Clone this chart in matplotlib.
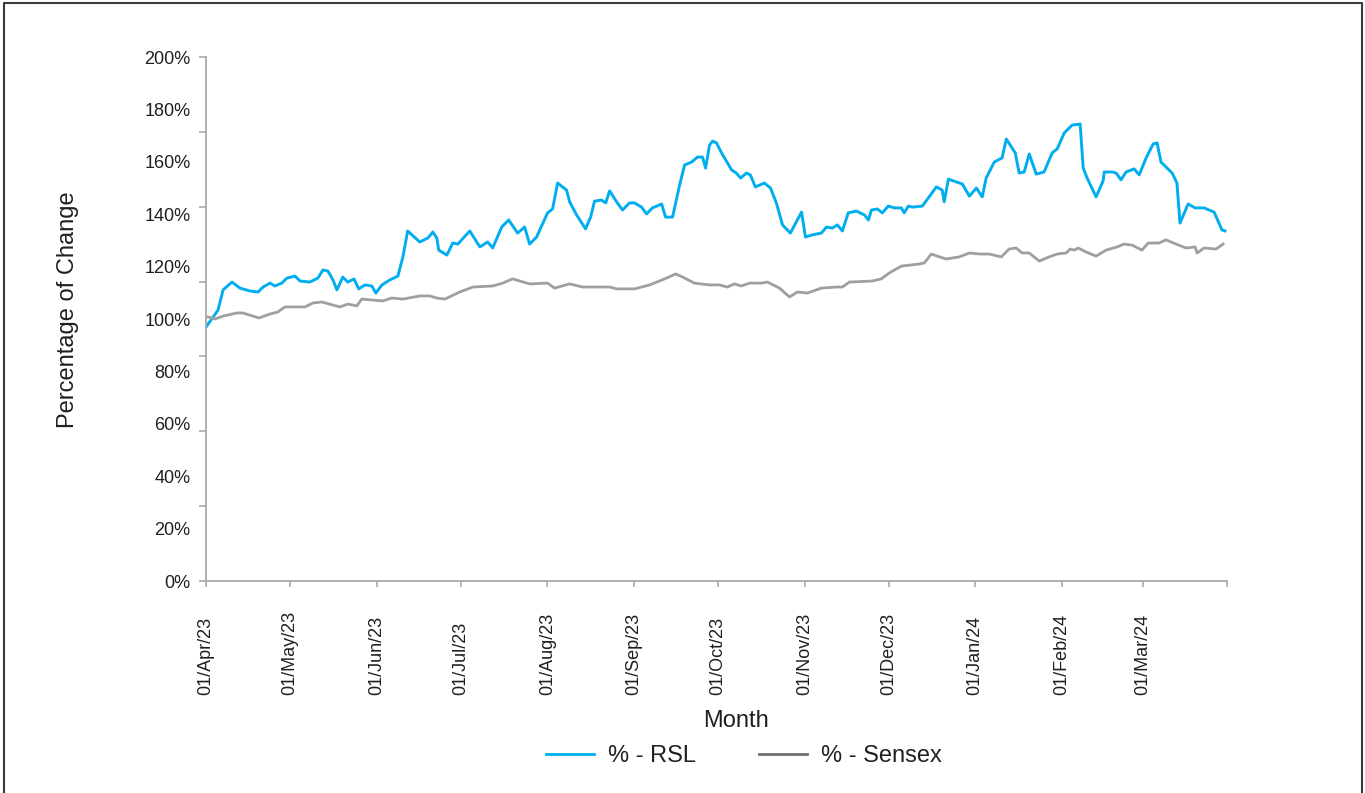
import matplotlib
matplotlib.use("Agg")
import matplotlib.pyplot as plt
from matplotlib.lines import Line2D
import numpy as np
import pandas as pd

# days since 01/Apr/23 and % change
rsl_days = [0, 4.3, 6.1, 9.3, 12.1, 15.7, 18.6, 20.4, 22.9, 24.6, 27.1, 28.9, 31.8, 33.6,
            37.1, 40, 41.8, 43.6, 45.4, 46.8, 48.9, 50.7, 52.9, 54.6, 56.8, 59.3, 60.7,
            62.9, 65.7, 68.6, 70.4, 72.1, 76.4, 79.3, 81.1, 82.5, 83.2, 86.1,
            88.2, 90, 94.3, 97.9, 100.7, 102.5, 105.7, 108.2, 111.4, 113.9, 115.7, 118.2,
            122.1, 123.9, 125.7, 128.9, 130, 132.5, 135.7, 137.5, 138.9, 141.4, 142.9,
            144.3, 146.8, 148.9, 151.4, 153.2, 155.7, 157.5, 159.6, 162.9, 164.3, 166.8,
            169.3, 171.1, 173.6, 175.7, 177.5, 178.6, 180,
            181.1, 182.5, 184.3, 187.9, 189.6, 191.1, 193.2, 194.6, 196.4, 199.6, 201.8,
            203.9, 206.1, 208.9, 212.9, 214.3, 216.8, 220, 221.8, 223.9, 225.7, 227.5,
            229.6, 232.5, 235.4, 236.8, 237.9, 240, 241.8, 243.9, 246.1, 248.6, 249.6,
            251.1, 252.5, 256.1, 261.1, 263.2, 263.9, 265.4,
            270.4, 272.9, 275.4, 277.5, 278.9, 281.8, 284.6, 286.1, 289.3, 290.7, 292.5,
            294.3, 296.8, 299.6, 302.5, 304.3, 306.8, 309.6, 312.5, 313.6, 315, 318.2,
            320.7, 321.1, 324, 325.4, 327.1, 328.9, 331.8, 333.6, 336.1, 338.6, 340,
            341.4, 345.4, 347.1, 348.2, 351.1, 353.6, 356.8, 360.4, 363.2, 364.3]
rsl_pct = [96.9, 103.4, 111.1, 114.1, 111.8, 110.7, 110.3, 112.2, 113.7, 112.6, 113.7, 115.6,
           116.4, 114.5, 114.1, 115.6, 118.7, 118.3, 114.9, 111.1, 116.0, 114.1, 115.3, 111.5,
           113.0, 112.6, 109.9, 113.0, 114.9, 116.4, 123.7, 133.6, 129.4, 130.9, 133.2,
           130.9, 126.3, 124.4,
           129.0, 128.6, 133.6, 127.5, 129.4, 127.1, 135.1, 137.8, 132.8, 135.1, 128.6,
           131.3, 140.5, 142.0, 151.9, 149.2, 144.7, 139.7, 134.4, 138.9, 145.0, 145.4,
           144.3, 148.9, 144.7, 141.6, 144.3, 144.3, 142.7, 140.1, 142.4, 143.9, 138.9,
           138.9, 151.1, 158.8, 159.9, 161.8, 161.8, 157.6, 166.4,
           167.9, 167.2, 163.4, 156.9, 155.7, 153.8, 155.7, 155.0, 150.4, 151.9, 150.0,
           144.3, 135.9, 132.8, 140.8, 131.3, 132.1, 132.8, 135.1, 134.7, 135.9, 133.6,
           140.5, 141.2, 139.7, 137.8, 141.6, 142.0, 140.5, 143.1, 142.4, 142.4, 140.5,
           143.1, 142.7, 143.1, 150.4, 149.2, 144.7, 153.4,
           151.5, 146.9, 150.0, 146.6, 153.8, 159.9, 161.5, 168.7, 163.4, 155.7, 156.1,
           163.0, 155.3, 156.1, 163.4, 164.9, 171.0, 174.0, 174.4, 157.6, 153.8, 146.6,
           152.7, 156.1, 156.1, 155.7, 153.1, 156.1, 157.3, 155.0, 161.5, 166.8, 167.2,
           159.9, 155.7, 151.9, 136.6, 143.9, 142.4, 142.4, 140.8, 134.0, 133.6]

sensex_days = [0.7, 3.2, 6.1, 11.1, 13.2, 18.9, 22.9, 25.7, 28.2, 33.6, 35.4, 38.2, 41.4,
               45.4, 47.9, 50.7, 53.9, 55.7, 63.2, 66.4, 70.4, 76.4, 80, 82.5, 85.4,
               90.7, 95.4, 102.5, 106.1, 109.6, 115.7, 122.1, 124.6, 130, 134.6, 139.6,
               144.3, 146.8, 153.2, 158.6, 164.6, 167.9, 170.4, 174.6, 180,
               183.6, 186.4, 188.9, 191.4, 194.3, 198.6, 200.7, 205, 208.6, 211.4, 215, 220,
               225.4, 227.5, 230, 238.2, 241.4, 244.3, 248.6, 255, 256.8, 259.3, 261.4,
               264.6, 269.3, 272.9, 276.4, 280, 284.3, 287.1, 289.6, 291.8, 294.3, 297.9,
               301.4, 304.3, 307.5, 308.9, 310.4, 311.8, 314.6, 318.2, 321.8, 325.7, 328.2,
               331.1, 334.6, 336.8, 340.7, 343.2, 346.8, 350.4, 353.6, 354.3, 356.8, 361.1,
               363.6]
sensex_pct = [100.8, 100.0, 101.1, 102.3, 102.3, 100.4, 101.9, 102.7, 104.6, 104.6, 104.6,
              106.1, 106.5, 105.3, 104.6, 105.7, 105.0, 107.6, 106.9, 108.0, 107.6, 108.8,
              108.8, 108.0, 107.6,
              110.3, 112.2, 112.6, 113.7, 115.3, 113.4, 113.7, 111.8, 113.4, 112.2, 112.2,
              112.2, 111.5, 111.5, 113.0, 115.6, 117.2, 116.0, 113.7, 113.0,
              113.0, 112.2, 113.4, 112.6, 113.7, 113.7, 114.1, 111.8, 108.4, 110.3, 109.9,
              111.8, 112.2, 112.2, 114.1, 114.5, 115.3, 117.6, 120.2, 121.0, 121.4, 124.8,
              124.0, 122.9, 123.7, 125.2, 124.8, 124.8, 123.7, 126.7, 127.1, 125.2, 125.2,
              122.1, 123.7, 124.8, 125.2, 126.7, 126.3, 127.1, 125.6, 124.0, 126.3, 127.5,
              128.6, 128.2, 126.3, 129.0, 129.0, 130.2, 128.6, 127.1, 127.5, 125.2, 127.1,
              126.7, 128.6]

month_labels = ["01/Apr/23", "01/May/23", "01/Jun/23", "01/Jul/23", "01/Aug/23",
                "01/Sep/23", "01/Oct/23", "01/Nov/23", "01/Dec/23", "01/Jan/24",
                "01/Feb/24", "01/Mar/24"]

start = pd.Timestamp("2023-04-01")
month_days = [(m - start).days for m in
              pd.date_range("2023-04-01", "2024-03-01", freq="MS")]
end_day = (pd.Timestamp("2024-03-31") - start).days

plt.rcParams["font.family"] = ["Liberation Sans", "DejaVu Sans"]
txt = "#231f20"
axis_grey = "#a7a9ac"
rsl_col = "#00aeef"
sensex_col = "#9d9fa2"

fig = plt.figure(figsize=(13.65, 7.93), dpi=100)
ax = fig.add_axes([206 / 1365, 1 - 581 / 793, (1227 - 206) / 1365, (581 - 57) / 793])

ax.plot(rsl_days, rsl_pct, color=rsl_col, lw=2.1, solid_joinstyle="round")
ax.plot(sensex_days, sensex_pct, color=sensex_col, lw=2.0, solid_joinstyle="round")

ax.set_xlim(0, end_day)
ax.set_ylim(0, 200)

for s in ["top", "right"]:
    ax.spines[s].set_visible(False)
for s in ["left", "bottom"]:
    ax.spines[s].set_color(axis_grey)
    ax.spines[s].set_linewidth(1.3)

# tick marks on the y axis sit on 7 intervals, labels on 20% steps
ax.yaxis.remove_overlapping_locs = False
ax.set_yticks(np.linspace(0, 200, 8))
ax.set_yticklabels([])
ax.set_yticks(np.arange(0, 201, 20), minor=True)
ax.set_yticklabels([f"{v}%" for v in range(0, 201, 20)], minor=True)
ax.tick_params(axis="y", which="major", length=5, width=1.2, color=axis_grey)
ax.tick_params(axis="y", which="minor", length=0, pad=11, labelsize=13, labelcolor=txt)

# rotated month labels end at a common line below the axis
ax.set_xticks(month_days + [end_day])
ax.set_xticklabels(month_labels + [""], rotation=90, va="bottom", ha="center")
ax.tick_params(axis="x", length=4, width=1.2, color=axis_grey, pad=78,
               labelsize=13, labelcolor=txt)

fig.text(68 / 1365, 1 - 310 / 793, "Percentage of Change", rotation=90,
         ha="center", va="center", fontsize=17, color=txt)
fig.text(736 / 1365, 1 - 721 / 793, "Month", ha="center", va="center",
         fontsize=17, color=txt)

handles = [Line2D([], [], color=rsl_col, lw=2.0),
           Line2D([], [], color="#6d6e71", lw=2.0)]
fig.legend(handles, ["% - RSL", "% - Sensex"], loc="center",
           bbox_to_anchor=(744 / 1365, 1 - 756 / 793), ncol=2, frameon=False,
           fontsize=17, handlelength=2.0, handletextpad=0.6, columnspacing=2.7,
           labelcolor=txt)

# outer frame
fx = [4 / 1365, 4 / 1365, 1362 / 1365, 1362 / 1365]
fy = [-0.01, 1 - 3 / 793, 1 - 3 / 793, -0.01]
fig.add_artist(Line2D(fx, fy, color="#3a3a3a", lw=1.5, transform=fig.transFigure))

fig.savefig("out.png", dpi=100)
